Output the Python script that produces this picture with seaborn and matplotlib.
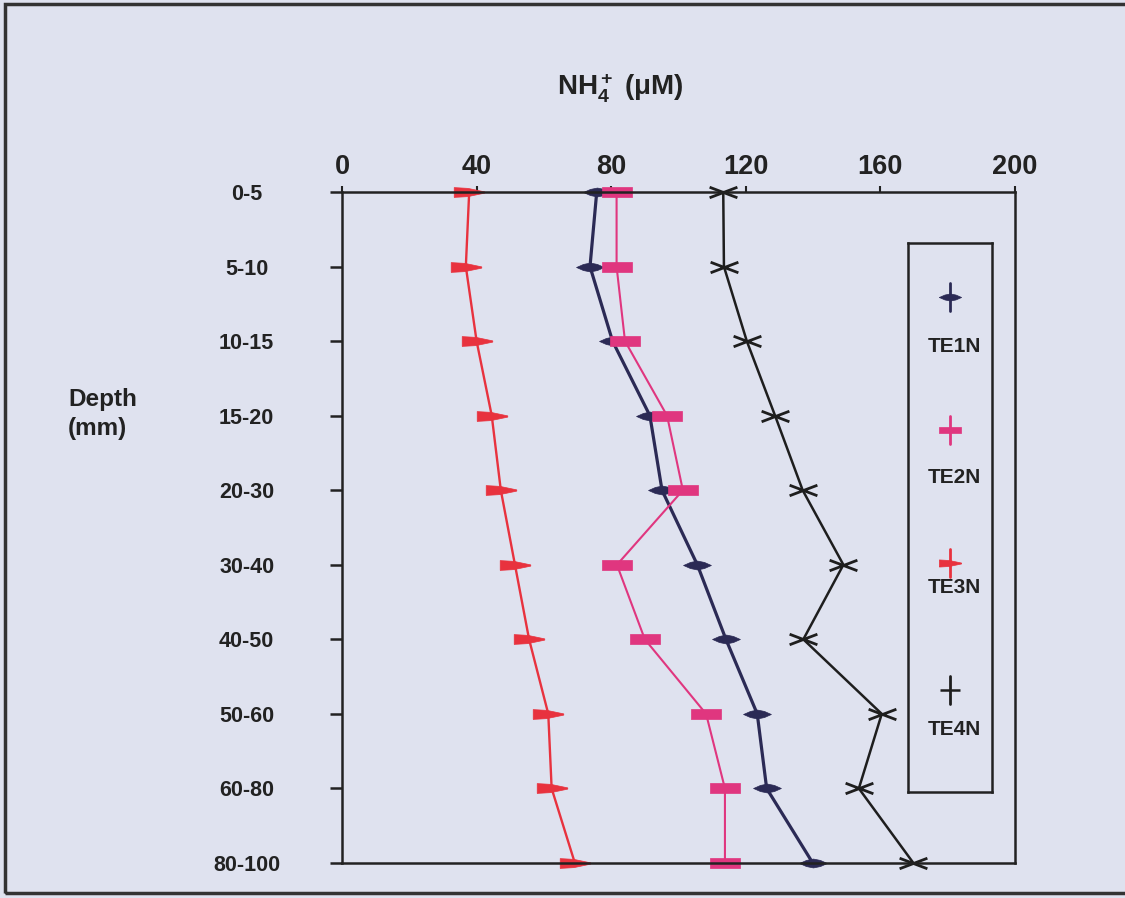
import numpy as np
import pandas as pd
import matplotlib
matplotlib.use("Agg")
import matplotlib.pyplot as plt
from matplotlib.path import Path
from matplotlib.patches import Rectangle
import seaborn as sns

# ---- data -------------------------------------------------------------
depth_labels = ["0-5", "5-10", "10-15", "15-20", "20-30",
                "30-40", "40-50", "50-60", "60-80", "80-100"]
te1n = [75.7, 73.7, 80.4, 91.5, 95.1, 105.6, 114.1, 123.4, 126.2, 139.9]
te2n = [81.6, 81.6, 84.1, 96.6, 101.3, 81.7, 90.0, 108.2, 113.8, 113.8]
te3n = [37.8, 36.8, 40.0, 44.5, 47.2, 51.4, 55.6, 61.3, 62.3, 69.2]
te4n = [113.3, 113.5, 120.3, 128.7, 136.9, 149.0, 137.1, 160.4, 153.6, 169.8]
series_names = ["TE1N", "TE2N", "TE3N", "TE4N"]
x_ticks = [0, 40, 80, 120, 160, 200]

# ---- styling ----------------------------------------------------------
sns.set_theme(style="white")
plt.rcParams["font.family"] = ["Liberation Sans", "DejaVu Sans"]
plt.rcParams["font.weight"] = "bold"
plt.rcParams["mathtext.fontset"] = "custom"
plt.rcParams["mathtext.rm"] = "Liberation Sans:bold"
plt.rcParams["mathtext.it"] = "Liberation Sans:bold"
plt.rcParams["mathtext.bf"] = "Liberation Sans:bold"

BG = "#dfe2ef"
INK = "#222222"

# marker outlines
M, L = Path.MOVETO, Path.LINETO
spindle = Path([(-1, 0), (-0.5, 0.22), (0, 0.32), (0.5, 0.22), (1, 0),
                (0.5, -0.22), (0, -0.32), (-0.5, -0.22), (-1, 0)])
bar = Path([(-1, -0.3), (1, -0.3), (1, 0.3), (-1, 0.3), (-1, -0.3)])
flag = Path([(-1, -0.32), (-1, 0.32), (-0.1, 0.27), (1, 0.04), (1, -0.04),
             (-0.1, -0.27), (-1, -0.32)])
cross = Path([(-1, 0.38), (1, -0.38), (-1, -0.38), (1, 0.38)], [M, L, M, L])

styles = {
    "TE1N": dict(color="#2b2a55", lw=2.3, marker=spindle, ms=20, mew=0.5, filled=True),
    "TE2N": dict(color="#e0367f", lw=1.5, marker=bar, ms=22, mew=0.5, filled=True),
    "TE3N": dict(color="#e8323e", lw=1.7, marker=flag, ms=22, mew=0.5, filled=True),
    "TE4N": dict(color="#1e1e1e", lw=1.8, marker=cross, ms=20, mew=2.0, filled=False),
}

positions = np.arange(len(depth_labels))
frames = []
for name, vals in zip(series_names, [te1n, te2n, te3n, te4n]):
    frames.append(pd.DataFrame({"series": name, "depth": depth_labels,
                                "pos": positions, "nh4": vals}))
df = pd.concat(frames, ignore_index=True)

# ---- figure -----------------------------------------------------------
W, H = 1125, 898
fig = plt.figure(figsize=(W / 100, H / 100), dpi=100, facecolor=BG)
ax = fig.add_axes([342 / W, 1 - 863 / H, (1015 - 342) / W, (863 - 192) / H])
ax.set_facecolor("none")

for name in series_names:
    st = styles[name]
    sub = df[df["series"] == name]
    sns.lineplot(data=sub, x="nh4", y="pos", orient="y", sort=False,
                 estimator=None, ax=ax, color=st["color"], lw=st["lw"],
                 marker=st["marker"], markersize=st["ms"],
                 markeredgewidth=st["mew"],
                 markerfacecolor=st["color"] if st["filled"] else "none",
                 markeredgecolor=st["color"], clip_on=False, legend=False)

ax.set_xlim(0, 200)
ax.set_ylim(len(depth_labels) - 1, 0)
ax.set_xlabel("")
ax.set_ylabel("")

ax.xaxis.tick_top()
ax.set_xticks(x_ticks)
ax.set_xticklabels([str(t) for t in x_ticks], fontsize=19.5, fontweight="bold", color=INK)
ax.tick_params(axis="x", which="both", top=True, bottom=False, direction="out",
               length=4, width=1.5, color=INK, pad=5)

ax.set_yticks(positions)
ax.set_yticklabels(depth_labels, fontsize=15.5, fontweight="bold", color=INK)
ax.tick_params(axis="y", left=True, right=False, direction="out",
               length=8.6, width=1.8, color=INK, pad=60)
for lab in ax.get_yticklabels():
    lab.set_horizontalalignment("center")

for sp in ax.spines.values():
    sp.set_visible(True)
    sp.set_color(INK)
    sp.set_linewidth(1.8)

# axis titles
fig.text(620 / W, 1 - 88 / H, r"NH$_4^+$ ($\mu$M)", ha="center", va="center",
         fontsize=20, fontweight="bold", color=INK)
fig.text(68 / W, 1 - 414 / H, "Depth\n(mm)", ha="left", va="center",
         fontsize=17.5, fontweight="bold", color=INK, linespacing=1.3)

# ---- legend box -------------------------------------------------------
lax = fig.add_axes([908 / W, 1 - 792 / H, 84 / W, (792 - 243) / H])
lax.set_facecolor("none")
lax.set_xlim(0, 1)
lax.set_ylim(1, 0)
lax.set_xticks([])
lax.set_yticks([])
for sp in lax.spines.values():
    sp.set_visible(True)
    sp.set_color(INK)
    sp.set_linewidth(1.8)

mark_y = [0.098, 0.341, 0.583, 0.814]
text_y = [0.189, 0.428, 0.627, 0.887]
legend_markers = {"TE1N": (spindle, 16, 0.5), "TE2N": (bar, 16, 0.5),
                  "TE3N": (flag, 16, 0.5), "TE4N": ("_", 14, 1.8)}
for name, my, ty in zip(series_names, mark_y, text_y):
    st = styles[name]
    mk, ms, mew = legend_markers[name]
    lax.plot([0.5, 0.5], [my - 0.026, my + 0.026], color=st["color"], lw=2.0)
    lax.plot([0.5], [my], marker=mk, ms=ms, mew=mew, color=st["color"],
             markerfacecolor=st["color"], markeredgecolor=st["color"], ls="none")
    lax.text(0.55, ty, name, ha="center", va="center", fontsize=15,
             fontweight="bold", color=INK)

# outer frame
fig.patches.append(Rectangle((5 / W, 5 / H), 1.05, (H - 9) / H,
                             transform=fig.transFigure, fill=False,
                             lw=2.5, ec="#333333"))

fig.savefig("out.png", dpi=100, facecolor=BG)
